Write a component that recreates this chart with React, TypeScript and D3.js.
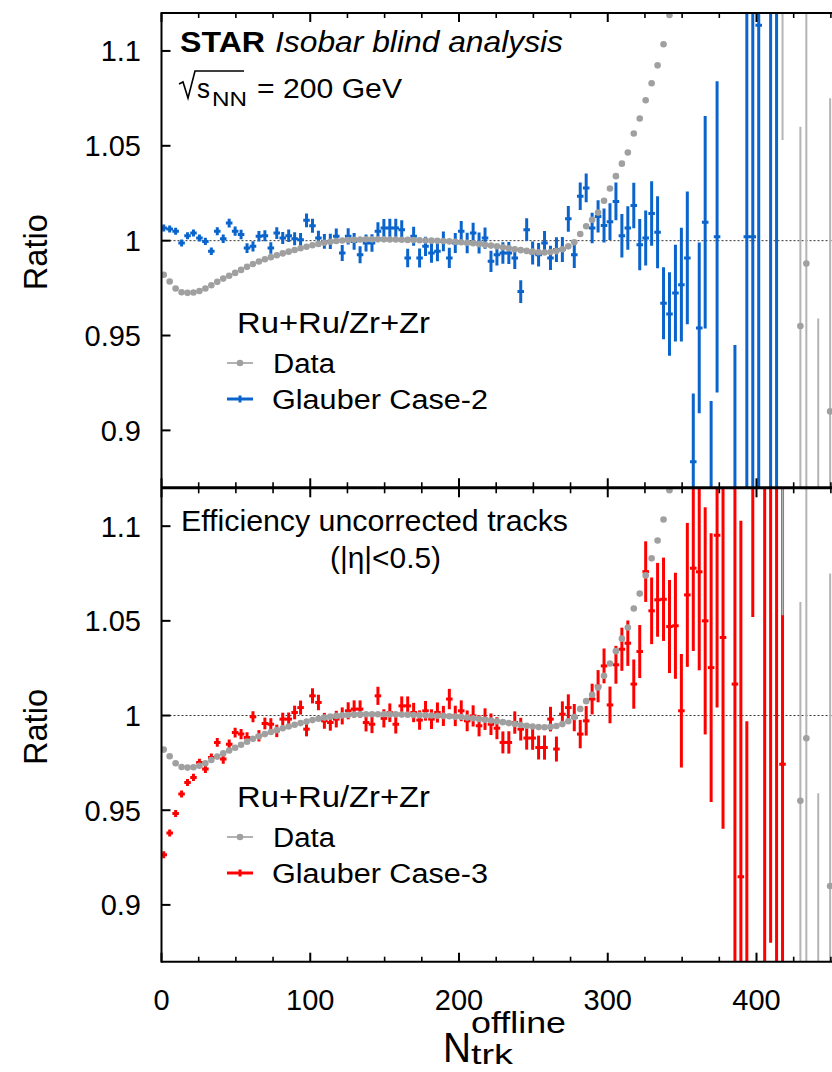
import React from 'react';
import * as d3 from 'd3';

// ---------- data ----------
const N_TRK_BINS = [
  1.5, 5.5, 9.5, 13.5, 17.5, 21.5, 25.5, 29.5, 33.5, 37.5,
  41.5, 45.5, 49.5, 53.5, 57.5, 61.5, 65.5, 69.5, 73.5, 77.5,
  81.5, 85.5, 89.5, 93.5, 97.5, 101.5, 105.5, 109.5, 113.5, 117.5,
  121.5, 125.5, 129.5, 133.5, 137.5, 141.5, 145.5, 149.5, 153.5, 157.5,
  161.5, 165.5, 169.5, 173.5, 177.5, 181.5, 185.5, 189.5, 193.5, 197.5,
  201.5, 205.5, 209.5, 213.5, 217.5, 221.5, 225.5, 229.5, 233.5, 237.5,
  241.5, 245.5, 249.5, 253.5, 257.5, 261.5, 265.5, 269.5, 273.5, 277.5,
  281.5, 285.5, 289.5, 293.5, 297.5, 301.5, 305.5, 309.5, 313.5, 317.5,
  321.5, 325.5, 329.5, 333.5, 337.5, 341.5, 345.5, 349.5, 353.5, 357.5,
  361.5, 365.5, 369.5, 373.5, 377.5,
];

// Data: Ru+Ru / Zr+Zr ratio (grey)
const DATA_RATIO = [
  0.982, 0.9785, 0.9748, 0.9728, 0.9725, 0.9727, 0.9735, 0.9748, 0.9765, 0.9783,
  0.98, 0.9815, 0.983, 0.9846, 0.9862, 0.9877, 0.989, 0.9902, 0.9913, 0.9923,
  0.9933, 0.9942, 0.9951, 0.996, 0.9968, 0.9976, 0.9983, 0.9989, 0.9994, 0.9998,
  1.0001, 1.0003, 1.0005, 1.0006, 1.0007, 1.0007, 1.0007, 1.0007, 1.0006, 1.0006,
  1.0005, 1.0004, 1.0003, 1.0002, 1.0001, 1.0, 0.9999, 0.9998, 0.9996, 0.9994,
  0.9992, 0.9989, 0.9986, 0.9982, 0.9978, 0.9974, 0.997, 0.9965, 0.996, 0.9955,
  0.995, 0.9946, 0.9942, 0.9939, 0.9938, 0.994, 0.9945, 0.9955, 0.997, 0.9992,
  1.0035, 1.0076, 1.011, 1.0148, 1.021, 1.0275, 1.034, 1.0406, 1.0465, 1.0565,
  1.0644, 1.074, 1.083, 1.0924, 1.1035, 1.119,
];
const DATA_TAIL_X = [417.5, 429.5, 433.5, 441.5, 449.5];
const DATA_TAIL_RATIO = [1.2, 0.955, 0.988, 0.83, 0.91];
const DATA_TAIL_ERR = [0.147, 0.105, 0.16, 0.129, 0.165];

// Glauber Case-2 (blue)
const CASE2_X = N_TRK_BINS.slice(0, 94).concat([385.5, 393.5, 397.5, 401.5, 409.5, 413.5]);
const CASE2_RATIO = [
  1.0067, 1.0062, 1.0049, 0.9988, 1.0026, 1.004, 1.0014, 0.9996, 0.9944, 1.005,
  1.001, 1.0093, 1.005, 1.0032, 0.9961, 0.997, 1.0023, 1.0026, 0.9961, 1.004,
  1.0014, 1.0026, 1.001, 1.0005, 1.0107, 1.0079, 1.0014, 0.9996, 0.9996, 1.0023,
  0.9935, 1.0023, 0.9996, 0.9926, 0.9988, 0.9988, 1.005, 1.0067, 1.0067, 1.0067,
  1.0058, 0.9909, 1.0023, 0.9909, 0.997, 0.9935, 0.9944, 0.9996, 0.9909, 0.9988,
  1.005, 0.9988, 1.004, 0.9988, 1.0014, 0.9891, 0.9926, 0.9935, 0.9935, 0.9909,
  0.9732, 1.0058, 0.9935, 0.9926, 0.9988, 0.9909, 0.9953, 0.9953, 1.0115, 0.9926,
  1.0234, 1.0278, 1.0067, 1.0128, 1.008, 1.01, 1.0207, 1.0026, 1.0067, 1.0185,
  0.9979, 1.0014, 1.0143, 1.0044, 0.967, 0.9613, 0.9724, 0.9768, 0.9909, 0.8835,
  0.954, 1.0097, 0.85, 1.002,
  0.83, 1.002, 1.002, 1.1135, 1.25, 0.8,
];
const CASE2_ERR = [
  0.0012, 0.0013, 0.0014, 0.0015, 0.0016, 0.0017, 0.0018, 0.0019, 0.002, 0.0021,
  0.0022, 0.0023, 0.0024, 0.0025, 0.0026, 0.0027, 0.0028, 0.0029, 0.003, 0.0031,
  0.0032, 0.0033, 0.0034, 0.0035, 0.0036, 0.0037, 0.0038, 0.0039, 0.004, 0.0041,
  0.0042, 0.0043, 0.0044, 0.0045, 0.0045, 0.0046, 0.0047, 0.0047, 0.0048, 0.0048,
  0.0049, 0.0049, 0.005, 0.005, 0.0051, 0.0051, 0.0052, 0.0052, 0.0053, 0.0053,
  0.0054, 0.0054, 0.0055, 0.0055, 0.0056, 0.0056, 0.0057, 0.0057, 0.0058, 0.0059,
  0.006, 0.006, 0.0061, 0.0062, 0.0063, 0.0064, 0.0065, 0.0066, 0.0068, 0.007,
  0.0072, 0.0076, 0.008, 0.0085, 0.009, 0.0097, 0.01, 0.0115, 0.0115, 0.012,
  0.0135, 0.0145, 0.017, 0.019, 0.019, 0.022, 0.0255, 0.03, 0.035, 0.036,
  0.045, 0.056, 0.0655, 0.082,
  0.115, 0.2, 0.2, 0.3, 0.45, 0.45,
];

// Glauber Case-3 (red)
const CASE3_X = N_TRK_BINS.slice(0, 95).concat([385.5, 389.5, 393.5, 397.5, 405.5, 409.5, 413.5, 417.5]);
const CASE3_RATIO = [
  0.9265, 0.9379, 0.9483, 0.9585, 0.9646, 0.9673, 0.9752, 0.9717, 0.9778, 0.9858,
  0.977, 0.9849, 0.991, 0.9902, 0.9884, 0.9993, 0.9893, 0.9958, 0.9954, 0.9919,
  0.9981, 0.9981, 1.0016, 1.0042, 0.9928, 1.0104, 1.0069, 0.9972, 0.9963, 0.9981,
  0.9998, 1.0025, 1.0034, 1.0034, 0.9963, 0.9954, 1.0104, 0.9985, 1.0015, 0.9954,
  1.0051, 1.0051, 1.0016, 0.9976, 1.0025, 0.9981, 1.0016, 0.9998, 1.0087, 0.9998,
  1.0025, 0.9972, 0.9998, 0.9946, 0.9981, 0.9954, 0.9933, 0.9858, 0.9858, 0.9963,
  0.9928, 0.9881, 0.9881, 0.9831, 0.9831, 0.9981, 0.9823, 1.0007, 1.0042, 0.9989,
  0.9902, 0.9972, 1.0087, 1.0155, 1.0262, 1.0056, 1.0268, 1.035, 1.0382, 1.0166,
  1.0338, 1.076, 1.0553, 1.0611, 1.0614, 1.047, 1.0474, 1.0025, 1.0637, 1.0778,
  1.0759, 1.05, 1.0253, 1.0952, 1.0412,
  1.0166, 0.9148, 0.85, 1.2, 1.3, 1.2, 0.75, 0.9743,
];
const CASE3_ERR = [
  0.0014, 0.0015, 0.0016, 0.0017, 0.0018, 0.0019, 0.002, 0.0021, 0.0022, 0.0023,
  0.0024, 0.0025, 0.0026, 0.0027, 0.0028, 0.0029, 0.003, 0.0031, 0.0032, 0.0033,
  0.0034, 0.0035, 0.0036, 0.0037, 0.0038, 0.004, 0.0041, 0.0042, 0.0043, 0.0044,
  0.0045, 0.0045, 0.0046, 0.0046, 0.0047, 0.0047, 0.0048, 0.0048, 0.0049, 0.0049,
  0.005, 0.005, 0.0051, 0.0051, 0.0052, 0.0052, 0.0053, 0.0053, 0.0054, 0.0054,
  0.0055, 0.0055, 0.0056, 0.0056, 0.0057, 0.0057, 0.0058, 0.0058, 0.0059, 0.0059,
  0.006, 0.0061, 0.0062, 0.0063, 0.0064, 0.0065, 0.0066, 0.0068, 0.007, 0.0072,
  0.0075, 0.0078, 0.0081, 0.0085, 0.0092, 0.0097, 0.01, 0.0114, 0.012, 0.013,
  0.014, 0.016, 0.0176, 0.0195, 0.022, 0.0246, 0.028, 0.03, 0.038, 0.0437,
  0.052, 0.06, 0.071, 0.091, 0.101,
  0.2, 0.188, 0.147, 0.148, 0.5, 0.32, 0.45, 0.3,
];

const Y_TICKS = [0.9, 0.95, 1, 1.05, 1.1];
const Y_TICK_LABELS = ['0.9', '0.95', '1', '1.05', '1.1'];
const X_MAJOR = [0, 100, 200, 300, 400];
const X_MAJOR_LABELS = ['0', '100', '200', '300', '400'];
const X_MINOR = [25, 50, 75, 125, 150, 175, 225, 250, 275, 325, 350, 375, 425, 450];

// ---------- layout ----------
const W = 832;
const H = 1072;
const FONT = "'Liberation Sans', Arial, Helvetica, sans-serif";
const GREY = '#a0a0a0';
const BLUE = '#0a64cc';
const RED = '#ff0000';

const xScale = d3.scaleLinear().domain([0, 450]).range([161.5, 161.5 + 450 * 1.4875]);
const PANELS = [
  { id: 'top', top: 13, bottom: 487.3 },
  { id: 'bot', top: 488.3, bottom: 961.7 },
];

function Label(props: any) {
  const { x, y, size, w, anchor, weight, italic, rotate, children } = props;
  return (
    <text
      x={x}
      y={y}
      fontSize={size}
      textLength={w}
      lengthAdjust={w ? 'spacingAndGlyphs' : undefined}
      textAnchor={anchor || 'start'}
      fontWeight={weight}
      fontStyle={italic ? 'italic' : undefined}
      transform={rotate ? `rotate(-90 ${x} ${y})` : undefined}
      fill="#000"
    >
      {children}
    </text>
  );
}

function ErrorSeries({ xs, vs, es, color, y }: any) {
  return (
    <g stroke={color} strokeWidth={3} fill="none">
      {xs.map((xv: number, i: number) => {
        const cx = xScale(xv);
        const cy = y(vs[i]);
        const t = Math.min(y(vs[i] + es[i]), cy - 3.5);
        const b = Math.max(y(vs[i] - es[i]), cy + 3.5);
        return (
          <g key={i}>
            <line x1={cx} x2={cx} y1={t} y2={b} />
            <line x1={xScale(xv - 2.2)} x2={xScale(xv + 2.2)} y1={cy} y2={cy} />
          </g>
        );
      })}
    </g>
  );
}

function DataSeries({ y }: any) {
  return (
    <g>
      {DATA_TAIL_X.map((xv, i) => (
        <line
          key={'e' + i}
          x1={xScale(xv)}
          x2={xScale(xv)}
          y1={y(DATA_TAIL_RATIO[i] + DATA_TAIL_ERR[i])}
          y2={y(DATA_TAIL_RATIO[i] - DATA_TAIL_ERR[i])}
          stroke="#b4b4b4"
          strokeWidth={2}
        />
      ))}
      {DATA_RATIO.map((v, i) => (
        <circle key={'d' + i} cx={xScale(N_TRK_BINS[i])} cy={y(v)} r={3.3} fill={GREY} />
      ))}
      {DATA_TAIL_X.map((xv, i) => (
        <circle key={'t' + i} cx={xScale(xv)} cy={y(DATA_TAIL_RATIO[i])} r={3.3} fill={GREY} />
      ))}
    </g>
  );
}

function Panel({ p, series }: any) {
  const y = d3.scaleLinear().domain([0.87, 1.12]).range([p.bottom, p.top]);
  const x0 = xScale(0);
  return (
    <g>
      <defs>
        <clipPath id={'clip-' + p.id}>
          <rect x={x0} y={p.top} width={W - x0} height={p.bottom - p.top} />
        </clipPath>
      </defs>
      {/* reference line at 1 */}
      <line x1={x0} x2={W} y1={y(1)} y2={y(1)} stroke="#333" strokeWidth={1} strokeDasharray="2,2" />
      <g clipPath={`url(#clip-${p.id})`}>
        <ErrorSeries xs={series.xs} vs={series.vs} es={series.es} color={series.color} y={y} />
        <DataSeries y={y} />
      </g>
      {/* frame */}
      <line x1={x0} x2={W} y1={p.top} y2={p.top} stroke="#000" strokeWidth={2} />
      <line x1={x0} x2={W} y1={p.bottom} y2={p.bottom} stroke="#000" strokeWidth={2} />
      <line x1={x0} x2={x0} y1={p.top - 1} y2={p.bottom + 1} stroke="#000" strokeWidth={2} />
      {/* x ticks */}
      {X_MAJOR.map((t) => (
        <g key={'M' + t} stroke="#000" strokeWidth={2}>
          <line x1={xScale(t)} x2={xScale(t)} y1={p.top} y2={p.top + 9} />
          <line x1={xScale(t)} x2={xScale(t)} y1={p.bottom} y2={p.bottom - 9} />
        </g>
      ))}
      {X_MINOR.map((t) => (
        <g key={'m' + t} stroke="#000" strokeWidth={1.6}>
          <line x1={xScale(t)} x2={xScale(t)} y1={p.top} y2={p.top + 5} />
          <line x1={xScale(t)} x2={xScale(t)} y1={p.bottom} y2={p.bottom - 5} />
        </g>
      ))}
      {/* y ticks + labels */}
      {Y_TICKS.map((t, i) => (
        <g key={'y' + t}>
          <line x1={x0} x2={x0 + 9} y1={y(t)} y2={y(t)} stroke="#000" strokeWidth={2} />
          <Label x={141} y={y(t) + 10.5} size={29} anchor="end">
            {Y_TICK_LABELS[i]}
          </Label>
        </g>
      ))}
      <Label x={47} y={(p.top + p.bottom) / 2 + 2} size={33} w={76} anchor="middle" rotate>
        Ratio
      </Label>
    </g>
  );
}

function Legend({ top, color, name }: any) {
  // top = baseline of header
  return (
    <g>
      <Label x={237} y={top} size={30} w={193}>Ru+Ru/Zr+Zr</Label>
      <line x1={227} x2={253} y1={top + 30} y2={top + 30} stroke={GREY} strokeWidth={1.6} />
      <circle cx={240} cy={top + 30} r={3.3} fill={GREY} />
      <Label x={273} y={top + 40} size={27} w={62}>Data</Label>
      <line x1={227} x2={253} y1={top + 66} y2={top + 66} stroke={color} strokeWidth={3} />
      <line x1={240} x2={240} y1={top + 62.5} y2={top + 69.5} stroke={color} strokeWidth={3} />
      <Label x={272} y={top + 76} size={27} w={216}>{name}</Label>
    </g>
  );
}

export default function App() {
  return (
    <div style={{ position: 'absolute', left: 0, top: 0, width: W, height: H, background: '#fff' }}>
      <svg width={W} height={H} viewBox={`0 0 ${W} ${H}`} style={{ display: 'block', fontFamily: FONT }}>
        <rect x={0} y={0} width={W} height={H} fill="#fff" />
        <Panel p={PANELS[0]} series={{ xs: CASE2_X, vs: CASE2_RATIO, es: CASE2_ERR, color: BLUE }} />
        <Panel p={PANELS[1]} series={{ xs: CASE3_X, vs: CASE3_RATIO, es: CASE3_ERR, color: RED }} />

        {/* top annotations */}
        <Label x={180} y={52} size={29} w={85} weight="bold">STAR</Label>
        <Label x={275} y={52} size={29} w={288} italic>Isobar blind analysis</Label>
        <path d="M179,84 L183,82 L188,98 L195,71 L244,71" stroke="#000" strokeWidth={1.6} fill="none" />
        <Label x={197} y={98} size={28} w={13}>s</Label>
        <Label x={212} y={106} size={21} w={35}>NN</Label>
        <Label x={257} y={98} size={27} w={145}>= 200 GeV</Label>
        <Legend top={333} color={BLUE} name="Glauber Case-2" />

        {/* bottom annotations */}
        <Label x={181} y={531} size={29} w={387}>Efficiency uncorrected tracks</Label>
        <Label x={330} y={568} size={29} w={111}>(|η|&lt;0.5)</Label>
        <Legend top={807} color={RED} name="Glauber Case-3" />

        {/* x axis labels */}
        {X_MAJOR.map((t, i) => (
          <Label key={'xl' + t} x={xScale(t)} y={1010} size={29} anchor="middle">
            {X_MAJOR_LABELS[i]}
          </Label>
        ))}
        <Label x={443} y={1062} size={42} w={28}>N</Label>
        <Label x={471} y={1033} size={30} w={95}>offline</Label>
        <Label x={471} y={1064} size={28} w={42}>trk</Label>
      </svg>
    </div>
  );
}
